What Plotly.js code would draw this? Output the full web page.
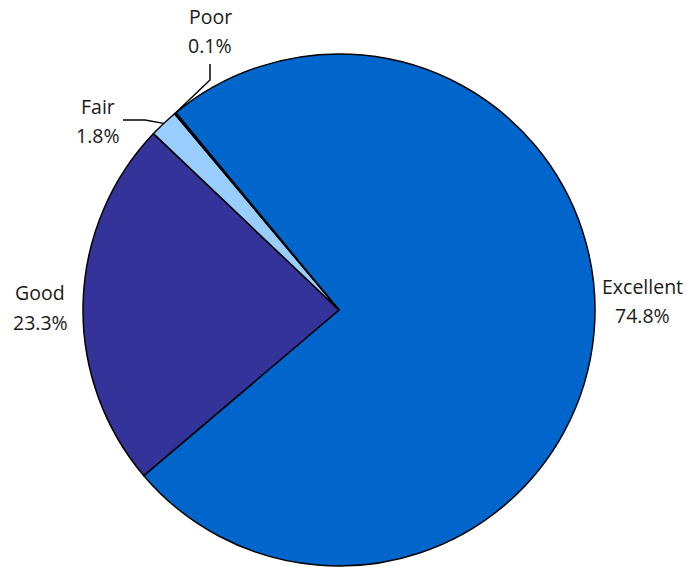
<!DOCTYPE html>
<html>
<head>
<meta charset="utf-8">
<script src="https://cdn.plot.ly/plotly-3.0.1.min.js"></script>
<style>html,body{margin:0;padding:0;background:#fff;}#chart{width:686px;height:567px;}</style>
</head>
<body>
<div id="chart"></div>
<script>
// ---- data ----
const categories = ["Excellent", "Good", "Fair", "Poor"];
const shares = [74.8, 23.3, 1.8, 0.1];

// ---- styles / layout (not data) ----
const sliceColors = ["#0066CC", "#333399", "#99CCFF", "#CCE5FF"];
const FONT = "Open Sans, Noto Sans, sans-serif";
const FONT_SIZE = 19.5;
const TEXT_COLOR = "#1a1a1a";
const ROTATION = -39.6;

// plot-area geometry in pixels
const W = 686, H = 567;
const M = { l: 83, r: 91, t: 54, b: 1 };
const PW = W - M.l - M.r, PH = H - M.t - M.b;
const CX = M.l + PW / 2, CY = M.t + PH / 2, R = Math.min(PW, PH) / 2;
const px2x = px => (px - M.l) / PW;
const py2y = py => (H - M.b - py) / PH;

// label anchor centres (pixels): [x, nameY, percentY]
const labelAnchors = [
  [642, 286, 315],
  [40, 292, 322],
  [98, 106, 135],
  [210, 16, 45]
];
// leader elbows for small slices (pixels), keyed by slice index
const leaderElbows = {
  2: [[145, 120], [123, 120]],
  3: [[210, 80], [210, 64]]
};

// slice mid-angles (clockwise from 12 o'clock), derived from the data
const total = shares.reduce((a, b) => a + b, 0);
let cum = 0;
const midAngles = shares.map(v => {
  const a = ROTATION + (cum + v / 2) / total * 360;
  cum += v;
  return a;
});

const annotations = [];
categories.forEach((c, i) => {
  const [ax, ny, py] = labelAnchors[i];
  annotations.push({
    xref: "paper", yref: "paper", x: px2x(ax), y: py2y(ny),
    xanchor: "center", yanchor: "middle", showarrow: false,
    text: c, font: { family: FONT, size: FONT_SIZE, color: TEXT_COLOR }
  });
  annotations.push({
    xref: "paper", yref: "paper", x: px2x(ax), y: py2y(py),
    xanchor: "center", yanchor: "middle", showarrow: false,
    text: shares[i].toFixed(1) + "%", font: { family: FONT, size: FONT_SIZE, color: TEXT_COLOR }
  });
});

const shapes = Object.keys(leaderElbows).map(k => {
  const i = +k;
  const th = midAngles[i] * Math.PI / 180;
  const ex = CX + R * Math.sin(th), ey = CY - R * Math.cos(th);
  const pts = [[ex, ey]].concat(leaderElbows[i]);
  const path = pts.map((p, j) => (j ? "L" : "M") + px2x(p[0]).toFixed(5) + "," + py2y(p[1]).toFixed(5)).join(" ");
  return { type: "path", xref: "paper", yref: "paper", path: path, line: { color: "#000000", width: 1.5 } };
});

const trace = {
  type: "pie",
  labels: categories,
  values: shares,
  sort: false,
  direction: "clockwise",
  rotation: ROTATION,
  marker: { colors: sliceColors, line: { color: "#000000", width: 1.5 } },
  textinfo: "none",
  automargin: false,
  hoverinfo: "label+percent",
  showlegend: false
};

const layout = {
  width: W,
  height: H,
  margin: M,
  paper_bgcolor: "#ffffff",
  plot_bgcolor: "#ffffff",
  showlegend: false,
  annotations: annotations,
  shapes: shapes
};

Plotly.newPlot("chart", [trace], layout, { displayModeBar: false, staticPlot: true });
</script>
</body>
</html>
